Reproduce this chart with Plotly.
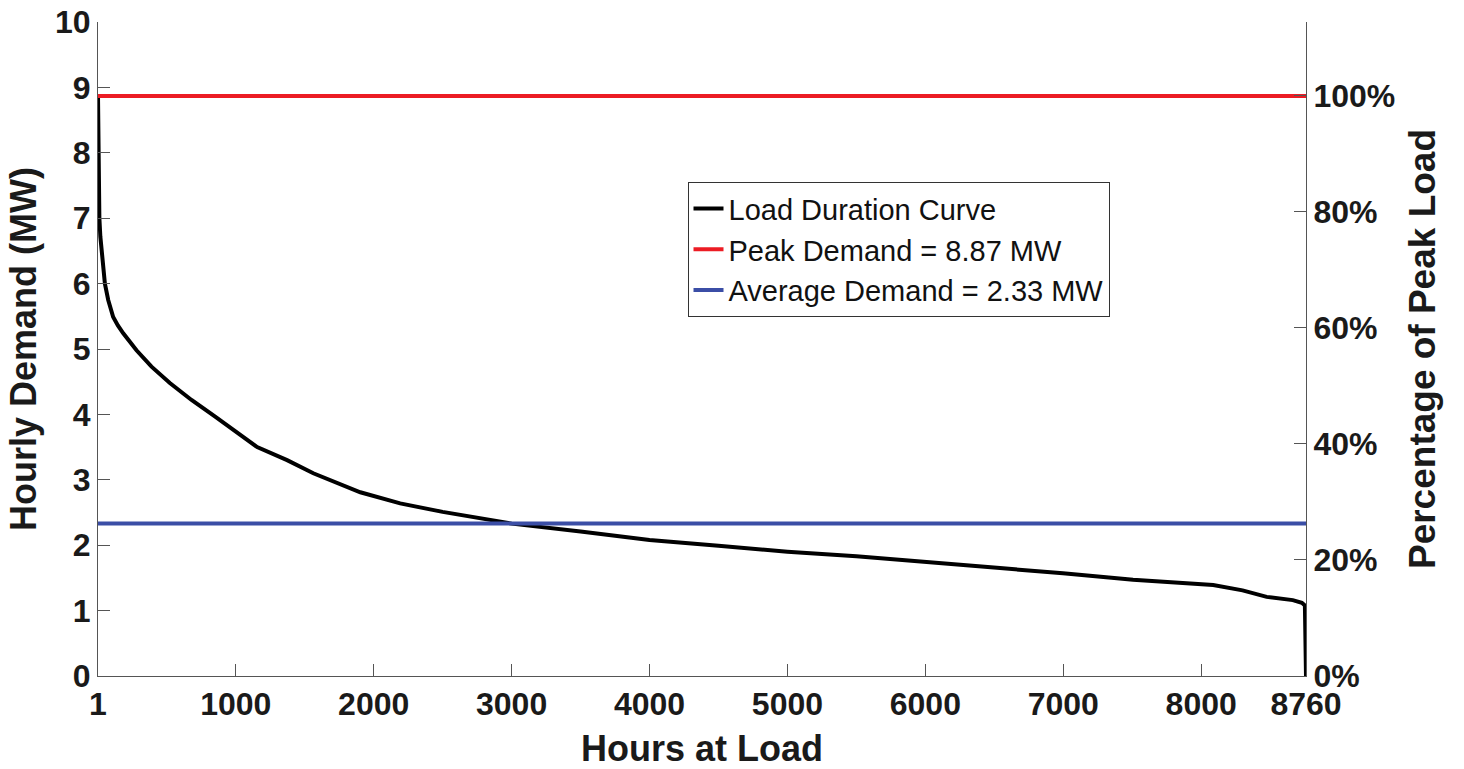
import plotly.graph_objects as go

# Load duration curve (hours at load, MW)
hours = [1, 3, 6, 11, 18, 27, 38, 51, 75, 111, 145, 184, 280, 389, 522, 679, 848, 1042, 1155,
         1372, 1562, 1903, 2192, 2500, 3000, 3500, 4000, 4500, 5000, 5500, 6000, 6541, 6998,
         7506, 8087, 8300, 8475, 8664, 8730, 8752, 8760]
demand = [8.87, 8.3, 7.6, 7.0, 6.72, 6.5, 6.25, 6.0, 5.75, 5.49, 5.36, 5.24, 4.98, 4.73, 4.48,
          4.22, 3.97, 3.67, 3.50, 3.30, 3.10, 2.81, 2.64, 2.51, 2.33, 2.21, 2.08, 1.99, 1.90,
          1.83, 1.75, 1.65, 1.57, 1.47, 1.39, 1.31, 1.21, 1.16, 1.12, 1.08, 0.0]

peak = 8.87
average = 2.33
x_ticks = [1, 1000, 2000, 3000, 4000, 5000, 6000, 7000, 8000, 8760]
y_ticks = list(range(0, 11))
pct_ticks = [0, 20, 40, 60, 80, 100]

FONT = "Liberation Sans, Arial, sans-serif"
AX = "#555555"

fig = go.Figure()
fig.add_trace(go.Scatter(x=hours, y=demand, mode="lines", name="Load Duration Curve",
                         line=dict(color="black", width=4)))
fig.add_trace(go.Scatter(x=[1, 8760], y=[peak, peak], mode="lines",
                         name="Peak Demand = 8.87 MW", line=dict(color="#ec1c24", width=4)))
fig.add_trace(go.Scatter(x=[1, 8760], y=[average, average], mode="lines",
                         name="Average Demand = 2.33 MW", line=dict(color="#3b4ea6", width=4)))
# invisible trace on the right axis
fig.add_trace(go.Scatter(x=[1, 8760], y=[0, 100], mode="lines", yaxis="y2",
                         showlegend=False, hoverinfo="skip",
                         line=dict(color="rgba(0,0,0,0)", width=0)))

tickfont = dict(family=FONT, size=32, color="#1a1a1a", weight="bold")
titlefont = dict(family=FONT, size=36, color="#1a1a1a", weight="bold")

fig.update_layout(
    width=1464, height=769,
    margin=dict(l=98, r=158, t=22, b=93, autoexpand=False),
    paper_bgcolor="white", plot_bgcolor="white",
    showlegend=True,
    legend=dict(x=0.488, y=0.755, xanchor="left", yanchor="top",
                bgcolor="white", bordercolor="#333333", borderwidth=1,
                font=dict(family=FONT, size=29, color="#111111"),
                tracegroupgap=0, itemwidth=30),
    xaxis=dict(range=[1, 8760], tickvals=x_ticks, ticktext=[str(v) for v in x_ticks],
               ticks="inside", ticklen=12, tickcolor=AX, tickwidth=1,
               showline=True, linecolor=AX, linewidth=1, showgrid=False, zeroline=False,
               tickfont=tickfont, automargin=False, ticklabeloverflow="allow",
               title=dict(text="Hours at Load", font=titlefont, standoff=18)),
    yaxis=dict(range=[0, 10], tickvals=y_ticks, ticks="inside", ticklen=12, tickcolor=AX,
               tickwidth=1, showline=True, linecolor=AX, linewidth=1, showgrid=False,
               zeroline=False, tickfont=tickfont, automargin=False,
               ticklabeloverflow="allow",
               title=dict(text="Hourly Demand (MW)", font=titlefont, standoff=7)),
    yaxis2=dict(range=[0, 100 * 10 / peak], overlaying="y", side="right",
                tickvals=pct_ticks, ticktext=[f"{v}%" for v in pct_ticks],
                ticks="inside", ticklen=12, tickcolor=AX, tickwidth=1,
                showline=True, linecolor=AX, linewidth=1, showgrid=False, zeroline=False,
                tickfont=tickfont, automargin=False, ticklabeloverflow="allow",
                title=dict(text="Percentage of Peak Load",
                           font=dict(family=FONT, size=37, color="#1a1a1a", weight="bold"),
                           standoff=14)),
)

fig.write_html("out.html", config={"displayModeBar": False},
               post_script="document.body.style.margin='0';")
